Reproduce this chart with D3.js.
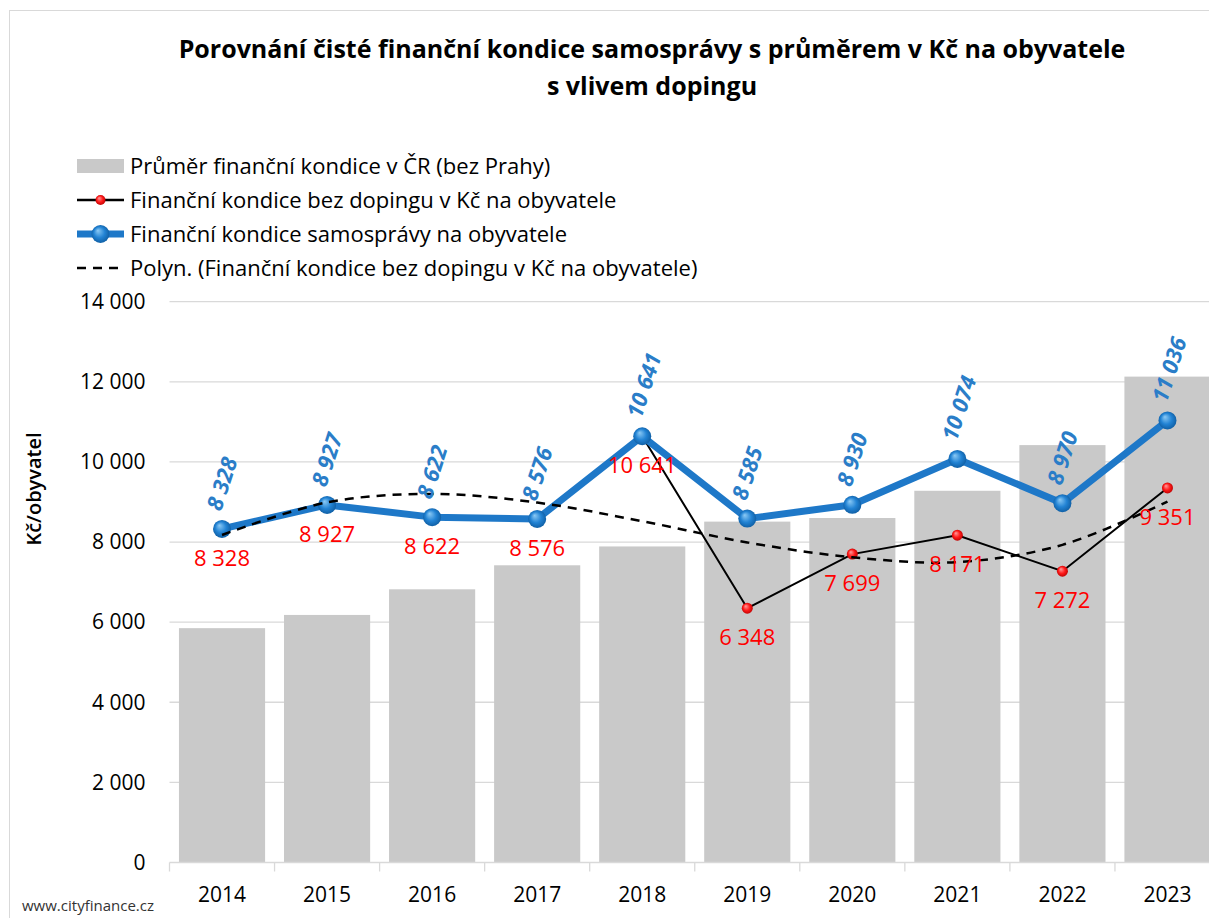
<!DOCTYPE html>
<html>
<head>
<meta charset="utf-8">
<script src="https://cdn.jsdelivr.net/npm/d3@7"></script>
<style>
  body { margin: 0; background: #fff; }
  svg { display: block; font-family: "Open Sans", sans-serif; }
</style>
</head>
<body>
<div id="chart"></div>
<script>
// Chart data
const years = ['2014', '2015', '2016', '2017', '2018', '2019', '2020', '2021', '2022', '2023'];
const prumerCR = [5850, 6180, 6820, 7420, 7890, 8510, 8600, 9280, 10420, 12130];
const bezDopingu = [8328, 8927, 8622, 8576, 10641, 6348, 7699, 8171, 7272, 9351];
const samosprava = [8328, 8927, 8622, 8576, 10641, 8585, 8930, 10074, 8970, 11036];
const polynTrend = [8177, 8990, 9200, 8985, 8520, 7990, 7620, 7500, 7930, 9010];
const yTicks = [0, 2000, 4000, 6000, 8000, 10000, 12000, 14000];

const legendItems = [
    'Průměr finanční kondice v ČR (bez Prahy)',
    'Finanční kondice bez dopingu v Kč na obyvatele',
    'Finanční kondice samosprávy na obyvatele',
    'Polyn. (Finanční kondice bez dopingu v Kč na obyvatele)'
];

const W = 1209, H = 918;
const plot = {left: 169.5, right: 1220, top: 301.7, bottom: 862.5};

const cz = d3.formatLocale({decimal: ',', thousands: ' ', grouping: [3], currency: ['', '']});
const fmt = cz.format(',d');

const svg = d3.select('#chart').append('svg')
    .attr('width', W)
    .attr('height', H);

// Gradients for the 3D-ish markers
const defs = svg.append('defs');
function addGradient(id, c0, c1, c2) {
    const g = defs.append('radialGradient')
        .attr('id', id)
        .attr('cx', '50%').attr('cy', '50%').attr('r', '55%')
        .attr('fx', '35%').attr('fy', '30%');
    g.append('stop').attr('offset', '0%').attr('stop-color', c0);
    g.append('stop').attr('offset', '55%').attr('stop-color', c1);
    g.append('stop').attr('offset', '100%').attr('stop-color', c2);
}
addGradient('gBlue', '#8ccaf5', '#2283d4', '#0d5a9e');
addGradient('gRed', '#ff9d9d', '#ff1a1a', '#b80000');

// Chart border
svg.append('rect')
    .attr('x', 9.5).attr('y', 10.5)
    .attr('width', W).attr('height', H)
    .attr('fill', 'none')
    .attr('stroke', '#d9d9d9');

// Title
const title = svg.append('text')
    .attr('text-anchor', 'middle')
    .style('font-size', '25px')
    .style('font-weight', 'bold')
    .attr('fill', '#000');
title.append('tspan').attr('x', 652).attr('y', 57.5)
    .text('Porovnání čisté finanční kondice samosprávy s průměrem v Kč na obyvatele');
title.append('tspan').attr('x', 652).attr('y', 94.5)
    .text('s vlivem dopingu');

// Scales
const x = d3.scaleBand()
    .domain(years)
    .range([plot.left, plot.right])
    .paddingInner(0.18)
    .paddingOuter(0.09);

const y = d3.scaleLinear()
    .domain([0, 14000])
    .range([plot.bottom, plot.top]);

const cx = d => x(d) + x.bandwidth() / 2;

// Gridlines
svg.append('g')
    .selectAll('line')
    .data(yTicks.filter(t => t > 0))
    .enter().append('line')
    .attr('x1', plot.left).attr('x2', plot.right)
    .attr('y1', d => y(d)).attr('y2', d => y(d))
    .attr('stroke', '#d9d9d9')
    .attr('stroke-width', 1.3);

// Y axis labels
const yAxis = svg.append('g')
    .attr('transform', `translate(${plot.left},0)`)
    .call(d3.axisLeft(y).tickValues(yTicks).tickSize(0).tickPadding(24).tickFormat(fmt));
yAxis.select('.domain').remove();
yAxis.selectAll('text')
    .style('font-size', '21px')
    .style('font-family', '"Open Sans", sans-serif')
    .attr('fill', '#000');

// Y axis title
svg.append('text')
    .attr('transform', 'translate(41,489) rotate(-90)')
    .attr('text-anchor', 'middle')
    .style('font-size', '20px')
    .style('font-weight', '600')
    .attr('fill', '#000')
    .text('Kč/obyvatel');

// Bars
svg.append('g')
    .selectAll('rect')
    .data(years)
    .enter().append('rect')
    .attr('x', d => x(d))
    .attr('width', x.bandwidth())
    .attr('y', (d, i) => y(prumerCR[i]))
    .attr('height', (d, i) => y(0) - y(prumerCR[i]))
    .attr('fill', '#c9c9c9');

// X axis with ticks between categories
const step = x.step();
const xAxis = svg.append('g');
xAxis.append('line')
    .attr('x1', plot.left).attr('x2', plot.right)
    .attr('y1', plot.bottom).attr('y2', plot.bottom)
    .attr('stroke', '#d9d9d9').attr('stroke-width', 1.3);
xAxis.selectAll('.tick-mark')
    .data(d3.range(years.length + 1))
    .enter().append('line')
    .attr('x1', i => plot.left + i * step).attr('x2', i => plot.left + i * step)
    .attr('y1', plot.bottom).attr('y2', plot.bottom + 9)
    .attr('stroke', '#d9d9d9').attr('stroke-width', 1.3);
xAxis.selectAll('.year')
    .data(years)
    .enter().append('text')
    .attr('x', d => cx(d))
    .attr('y', 895)
    .attr('dy', '0.35em')
    .attr('text-anchor', 'middle')
    .style('font-size', '21px')
    .attr('fill', '#000')
    .text(d => d);

// Line without doping (black line, red markers)
const line = d3.line()
    .x((d, i) => cx(years[i]))
    .y(d => y(d));

svg.append('path')
    .datum(bezDopingu)
    .attr('d', line)
    .attr('fill', 'none')
    .attr('stroke', '#000')
    .attr('stroke-width', 2);

svg.append('g')
    .selectAll('circle')
    .data(bezDopingu)
    .enter().append('circle')
    .attr('cx', (d, i) => cx(years[i]))
    .attr('cy', d => y(d))
    .attr('r', 5.5)
    .attr('fill', 'url(#gRed)');

// Municipality line (blue)
svg.append('path')
    .datum(samosprava)
    .attr('d', line)
    .attr('fill', 'none')
    .attr('stroke', '#1e78c8')
    .attr('stroke-width', 7)
    .attr('stroke-linejoin', 'round');

svg.append('g')
    .selectAll('circle')
    .data(samosprava)
    .enter().append('circle')
    .attr('cx', (d, i) => cx(years[i]))
    .attr('cy', d => y(d))
    .attr('r', 9)
    .attr('fill', 'url(#gBlue)');

// Polynomial trend (dashed)
svg.append('path')
    .datum(polynTrend)
    .attr('d', line.curve(d3.curveCatmullRom.alpha(0.5)))
    .attr('fill', 'none')
    .attr('stroke', '#000')
    .attr('stroke-width', 2.5)
    .attr('stroke-dasharray', '9,7');
line.curve(d3.curveLinear);

// Blue labels, rotated
svg.append('g')
    .selectAll('text')
    .data(samosprava)
    .enter().append('text')
    .attr('transform', (d, i) => `translate(${cx(years[i]) - 1},${y(d) - 17}) rotate(-72)`)
    .attr('text-anchor', 'start')
    .style('font-size', '22px')
    .style('font-weight', 'bold')
    .style('font-style', 'italic')
    .attr('fill', '#2a7dc8')
    .text(d => fmt(d));

// Red labels below the points
svg.append('g')
    .selectAll('text')
    .data(bezDopingu)
    .enter().append('text')
    .attr('x', (d, i) => cx(years[i]))
    .attr('y', d => y(d) + 29)
    .attr('dy', '0.35em')
    .attr('text-anchor', 'middle')
    .style('font-size', '22px')
    .attr('fill', '#ff0000')
    .text(d => fmt(d));

// Legend
const legend = svg.append('g');
const legendY = [166, 200, 234, 268];
legend.append('rect')
    .attr('x', 77).attr('y', legendY[0] - 7)
    .attr('width', 47).attr('height', 14)
    .attr('fill', '#c9c9c9');
legend.append('line')
    .attr('x1', 77).attr('x2', 124)
    .attr('y1', legendY[1]).attr('y2', legendY[1])
    .attr('stroke', '#000').attr('stroke-width', 2.5);
legend.append('circle')
    .attr('cx', 100.5).attr('cy', legendY[1]).attr('r', 5)
    .attr('fill', 'url(#gRed)');
legend.append('line')
    .attr('x1', 77).attr('x2', 124)
    .attr('y1', legendY[2]).attr('y2', legendY[2])
    .attr('stroke', '#1e78c8').attr('stroke-width', 7);
legend.append('circle')
    .attr('cx', 100.5).attr('cy', legendY[2]).attr('r', 9)
    .attr('fill', 'url(#gBlue)');
legend.append('line')
    .attr('x1', 77).attr('x2', 125)
    .attr('y1', legendY[3]).attr('y2', legendY[3])
    .attr('stroke', '#000').attr('stroke-width', 2.5)
    .attr('stroke-dasharray', '9,7');

legend.selectAll('.label')
    .data(legendItems)
    .enter().append('text')
    .attr('x', 130)
    .attr('y', (d, i) => legendY[i])
    .attr('dy', '0.35em')
    .style('font-size', '22px')
    .attr('fill', '#000')
    .text(d => d);

// Source
svg.append('text')
    .attr('x', 22).attr('y', 906)
    .attr('dy', '0.35em')
    .style('font-size', '15px')
    .attr('fill', '#333')
    .text('www.cityfinance.cz');
</script>
</body>
</html>
